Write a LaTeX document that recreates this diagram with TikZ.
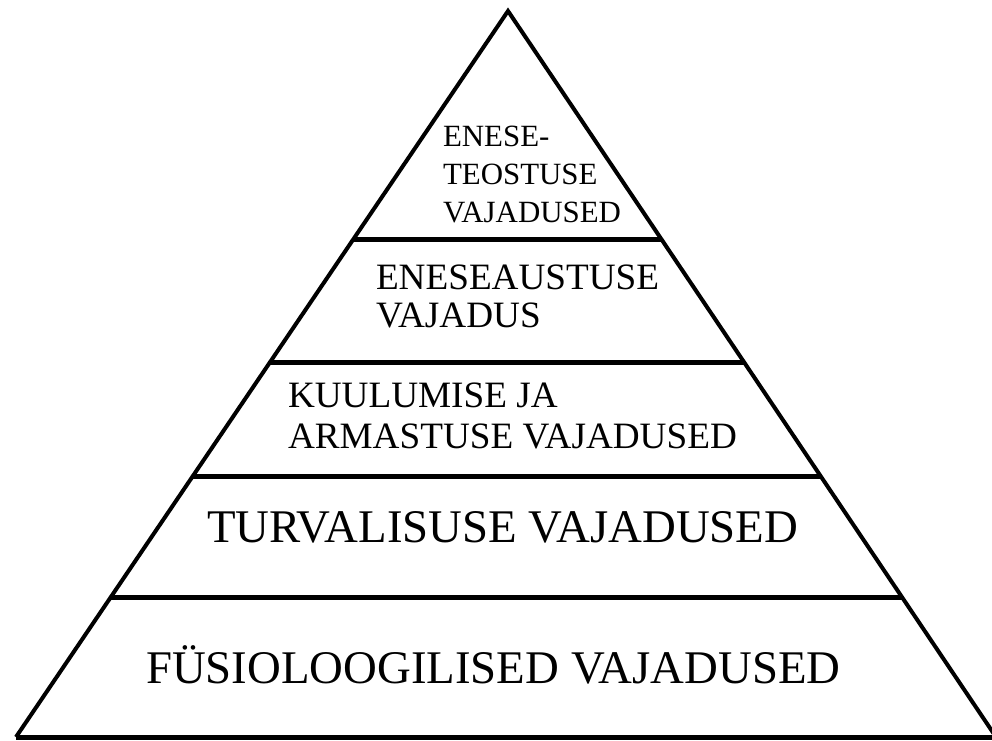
\documentclass[tikz,border=0pt]{standalone}
\usepackage{fontspec}
\setmainfont{Liberation Serif}
\usetikzlibrary{calc}
\begin{document}
\begin{tikzpicture}[x=1pt,y=-1pt,
  edge/.style={line width=4pt,line join=miter,black},
  tier/.style={line width=5pt,black},
  lbl/.style={anchor=base west,inner sep=0pt,outer sep=0pt,align=left,text=black}]
\useasboundingbox (0,0) rectangle (992,740);
\clip (0,0) rectangle (992,740);
\coordinate (A) at (508,11);
\coordinate (L) at (16,737);
\coordinate (R) at (996,737);
\draw[edge] (L) -- (A) -- (R);
\draw[tier] (L) -- (R);
\foreach \t/\n in {0.3154/a,0.4835/b,0.6405/c,0.8085/d}{
  \coordinate (l\n) at ($(A)!\t!(L)$);
  \coordinate (r\n) at ($(A)!\t!(R)$);
  \draw[tier] (l\n) -- (r\n);
}
\node[lbl,font=\fontsize{30.9}{38}\selectfont] (t1) at (443,222) {ENESE-\\TEOSTUSE\\VAJADUSED};
\node[lbl,font=\fontsize{37.2}{38}\selectfont] (t2) at (376,327) {ENESEAUSTUSE\\VAJADUS};
\node[lbl,font=\fontsize{37.2}{41}\selectfont] (t3) at (288,448) {KUULUMISE JA\\ARMASTUSE VAJADUSED};
\node[lbl,font=\fontsize{46.8}{50}\selectfont] (t4) at (207,542) {TURVALISUSE VAJADUSED};
\node[lbl,font=\fontsize{46.8}{50}\selectfont] (t5) at (146,683) {FÜSIOLOOGILISED VAJADUSED};
\end{tikzpicture}
\end{document}
